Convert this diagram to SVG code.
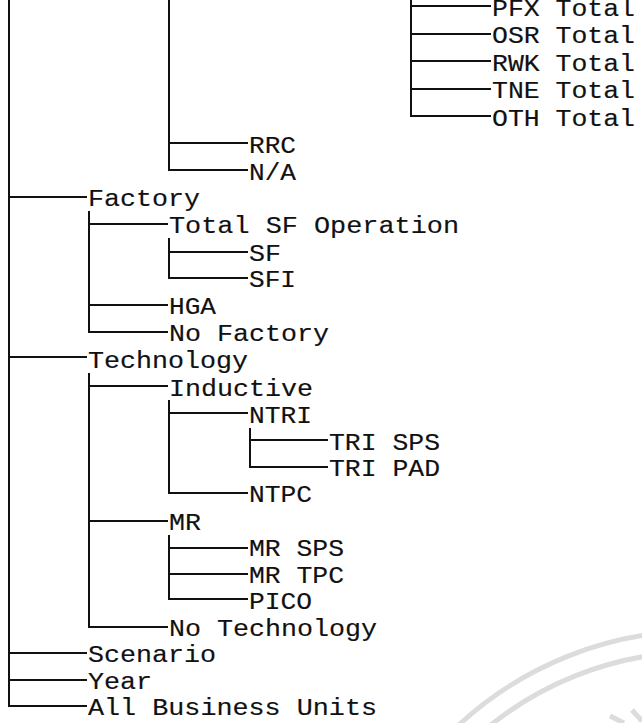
<svg xmlns="http://www.w3.org/2000/svg" width="642" height="723" viewBox="0 0 642 723">
<style>
text{font-family:"Liberation Mono","Courier New",monospace;font-size:24px;fill:#111;stroke:#111;stroke-width:0.15}
.c line{stroke:#111;stroke-width:2;fill:none}
.wm{fill:none;stroke:#dcdcdc;stroke-width:5}
</style>
<rect width="642" height="723" fill="#fff"/>
<g id="watermark">
<circle class="wm" cx="699" cy="985" r="354"/>
<circle class="wm" cx="699" cy="985" r="333"/>
<line class="wm" x1="610" y1="716" x2="624" y2="723"/>
<line class="wm" x1="632" y1="710" x2="642" y2="721"/>
</g>
<g id="connectors" class="c">
<line x1="9" y1="0" x2="9" y2="707"/>
<line x1="169" y1="0" x2="169" y2="171"/>
<line x1="411" y1="0" x2="411" y2="117"/>
<line x1="89" y1="211" x2="89" y2="333"/>
<line x1="169" y1="238" x2="169" y2="279"/>
<line x1="89" y1="373" x2="89" y2="628"/>
<line x1="169" y1="400" x2="169" y2="494"/>
<line x1="250" y1="428" x2="250" y2="468"/>
<line x1="169" y1="535" x2="169" y2="600"/>
<line x1="411" y1="6" x2="491" y2="6"/>
<line x1="411" y1="34" x2="491" y2="34"/>
<line x1="411" y1="61" x2="491" y2="61"/>
<line x1="411" y1="89" x2="491" y2="89"/>
<line x1="411" y1="116" x2="491" y2="116"/>
<line x1="169" y1="143" x2="248" y2="143"/>
<line x1="169" y1="170" x2="248" y2="170"/>
<line x1="9" y1="197" x2="87" y2="197"/>
<line x1="9" y1="357" x2="87" y2="357"/>
<line x1="9" y1="653" x2="87" y2="653"/>
<line x1="9" y1="680" x2="87" y2="680"/>
<line x1="9" y1="706" x2="87" y2="706"/>
<line x1="89" y1="224" x2="168" y2="224"/>
<line x1="89" y1="305" x2="168" y2="305"/>
<line x1="89" y1="332" x2="168" y2="332"/>
<line x1="89" y1="386" x2="168" y2="386"/>
<line x1="89" y1="521" x2="168" y2="521"/>
<line x1="89" y1="627" x2="168" y2="627"/>
<line x1="169" y1="252" x2="248" y2="252"/>
<line x1="169" y1="278" x2="248" y2="278"/>
<line x1="169" y1="413" x2="248" y2="413"/>
<line x1="169" y1="493" x2="248" y2="493"/>
<line x1="169" y1="548" x2="248" y2="548"/>
<line x1="169" y1="574" x2="248" y2="574"/>
<line x1="169" y1="599" x2="248" y2="599"/>
<line x1="250" y1="440" x2="328" y2="440"/>
<line x1="250" y1="467" x2="328" y2="467"/>
</g>
<g id="n-pfx"><text x="492" y="16" textLength="143" lengthAdjust="spacingAndGlyphs">PFX Total</text></g>
<g id="n-osr"><text x="492" y="43" textLength="143" lengthAdjust="spacingAndGlyphs">OSR Total</text></g>
<g id="n-rwk"><text x="492" y="71" textLength="143" lengthAdjust="spacingAndGlyphs">RWK Total</text></g>
<g id="n-tne"><text x="492" y="98" textLength="143" lengthAdjust="spacingAndGlyphs">TNE Total</text></g>
<g id="n-oth"><text x="492" y="126" textLength="143" lengthAdjust="spacingAndGlyphs">OTH Total</text></g>
<g id="n-rrc"><text x="249" y="153" textLength="47" lengthAdjust="spacingAndGlyphs">RRC</text></g>
<g id="n-na"><text x="249" y="180" textLength="47" lengthAdjust="spacingAndGlyphs">N/A</text></g>
<g id="n-factory"><text x="88" y="206" textLength="112" lengthAdjust="spacingAndGlyphs">Factory</text></g>
<g id="n-totalsf"><text x="169" y="233" textLength="290" lengthAdjust="spacingAndGlyphs">Total SF Operation</text></g>
<g id="n-sf"><text x="249" y="261" textLength="32" lengthAdjust="spacingAndGlyphs">SF</text></g>
<g id="n-sfi"><text x="249" y="287" textLength="47" lengthAdjust="spacingAndGlyphs">SFI</text></g>
<g id="n-hga"><text x="169" y="314" textLength="47" lengthAdjust="spacingAndGlyphs">HGA</text></g>
<g id="n-nofactory"><text x="169" y="341" textLength="160" lengthAdjust="spacingAndGlyphs">No Factory</text></g>
<g id="n-technology"><text x="88" y="368" textLength="160" lengthAdjust="spacingAndGlyphs">Technology</text></g>
<g id="n-inductive"><text x="169" y="396" textLength="144" lengthAdjust="spacingAndGlyphs">Inductive</text></g>
<g id="n-ntri"><text x="249" y="423" textLength="63" lengthAdjust="spacingAndGlyphs">NTRI</text></g>
<g id="n-trisps"><text x="329" y="450" textLength="111" lengthAdjust="spacingAndGlyphs">TRI SPS</text></g>
<g id="n-tripad"><text x="329" y="476" textLength="111" lengthAdjust="spacingAndGlyphs">TRI PAD</text></g>
<g id="n-ntpc"><text x="249" y="502" textLength="63" lengthAdjust="spacingAndGlyphs">NTPC</text></g>
<g id="n-mr"><text x="169" y="530" textLength="32" lengthAdjust="spacingAndGlyphs">MR</text></g>
<g id="n-mrsps"><text x="249" y="556" textLength="95" lengthAdjust="spacingAndGlyphs">MR SPS</text></g>
<g id="n-mrtpc"><text x="249" y="583" textLength="95" lengthAdjust="spacingAndGlyphs">MR TPC</text></g>
<g id="n-pico"><text x="249" y="609" textLength="63" lengthAdjust="spacingAndGlyphs">PICO</text></g>
<g id="n-notech"><text x="169" y="636" textLength="208" lengthAdjust="spacingAndGlyphs">No Technology</text></g>
<g id="n-scenario"><text x="88" y="662" textLength="128" lengthAdjust="spacingAndGlyphs">Scenario</text></g>
<g id="n-year"><text x="88" y="689" textLength="64" lengthAdjust="spacingAndGlyphs">Year</text></g>
<g id="n-abu"><text x="88" y="715" textLength="289" lengthAdjust="spacingAndGlyphs">All Business Units</text></g>
</svg>
